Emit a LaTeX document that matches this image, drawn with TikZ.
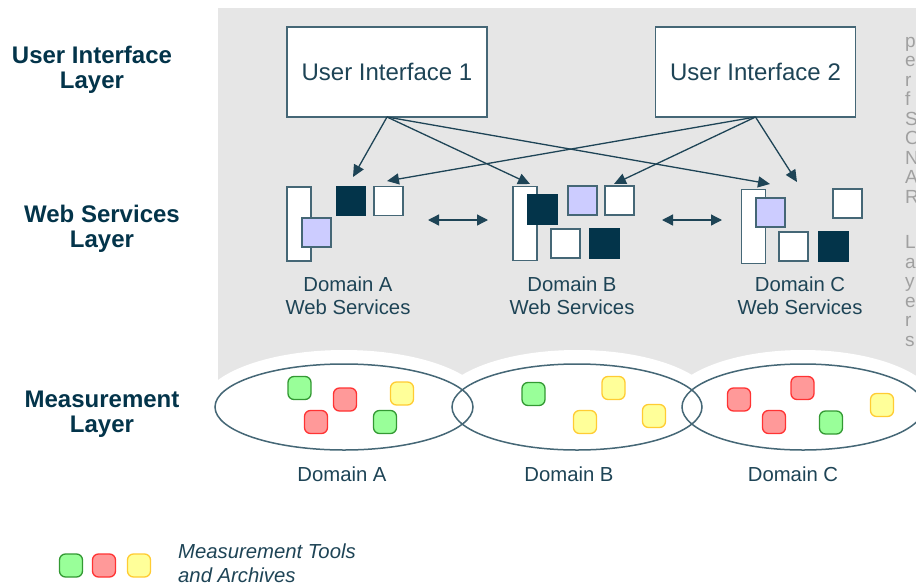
\documentclass[tikz,border=0pt]{standalone}
\usepackage{fontspec}
\setmainfont{Liberation Sans}
\usetikzlibrary{arrows.meta,shapes.geometric}
\definecolor{bgray}{HTML}{E6E6E6}
\definecolor{ink}{HTML}{1E4456}
\definecolor{navy}{HTML}{03344A}
\definecolor{edge}{HTML}{456776}
\definecolor{lav}{HTML}{CCCCFF}
\definecolor{gfill}{HTML}{99FF99}
\definecolor{gline}{HTML}{339933}
\definecolor{rfill}{HTML}{FF9999}
\definecolor{rline}{HTML}{FF3333}
\definecolor{yfill}{HTML}{FFFF99}
\definecolor{yline}{HTML}{FFCC33}
\definecolor{sidegray}{HTML}{A0A0A0}
\begin{document}
\begin{tikzpicture}[x=1pt,y=-1pt,
  layerlabel/.style={align=center,text=navy,font=\bfseries\fontsize{24}{24.5}\selectfont},
  uibox/.style={draw=edge,fill=white,line width=1.5pt,minimum width=200pt,minimum height=90pt,
    inner sep=0pt,outer sep=0pt,text=ink,font=\fontsize{24}{26}\selectfont},
  wsrect/.style={draw=edge,line width=1.5pt,inner sep=0pt,outer sep=0pt},
  wtall/.style={wsrect,fill=white,minimum width=24pt,minimum height=74pt},
  wsq/.style={wsrect,minimum width=29pt,minimum height=29pt},
  wwhite/.style={wsq,fill=white},
  wdark/.style={wsq,fill=navy,draw=navy},
  wlav/.style={wsq,fill=lav},
  domlabel/.style={align=center,text=ink,font=\fontsize{20.3}{23}\selectfont},
  conn/.style={draw=ink,line width=1.3pt,-{Triangle[length=12pt,width=11pt]}},
  biconn/.style={draw=ink,line width=1.3pt,{Triangle[length=11pt,width=11pt]}-{Triangle[length=11pt,width=11pt]}},
  domainshape/.style={ellipse,draw=edge,line width=1.5pt,inner sep=0pt,minimum height=86pt},
  halo/.style={fill=white},
  tool/.style={rounded corners=6pt,minimum size=23pt,inner sep=0pt,line width=1.3pt},
  gtool/.style={tool,draw=gline,fill=gfill},
  rtool/.style={tool,draw=rline,fill=rfill},
  ytool/.style={tool,draw=yline,fill=yfill},
  side/.style={anchor=base west,inner sep=0pt,text=sidegray,font=\fontsize{19}{19.5}\selectfont},
]
\clip (0,0) rectangle (916,584);
\fill[white] (0,0) rectangle (916,584);

% shaded band behind the upper two layers
\fill[bgray] (218,8) rectangle (916,384);

% white margins round the measurement domains
\fill[halo] (344,407) ellipse [x radius=143pt, y radius=57pt];
\fill[halo] (577,407) ellipse [x radius=139pt, y radius=57pt];
\fill[halo] (803,407) ellipse [x radius=135pt, y radius=57pt];

% layer titles
\node[layerlabel] (lui) at (92,70) {User Interface\\Layer};
\node[layerlabel] (lws) at (102,229) {Web Services\\Layer};
\node[layerlabel] (lms) at (102,414) {Measurement\\Layer};

% user interfaces
\node[uibox] (ui1) at (387,72) {User Interface 1};
\node[uibox] (ui2) at (755.5,72) {User Interface 2};

% domain A web services
\node[wtall] (aT) at (299,224) {};
\node[wlav] (aL) at (316.5,232.5) {};
\node[wdark] (aD) at (351,201) {};
\node[wwhite] (aW) at (388.5,201) {};
\node[domlabel] (aLbl) at (348,296) {Domain A\\Web Services};

% domain B web services
\node[wtall] (bT) at (525,223.5) {};
\node[wdark] (bD) at (542.5,209.5) {};
\node[wlav] (bL) at (582.5,200.5) {};
\node[wwhite] (bW) at (619.5,200.5) {};
\node[wwhite] (bW2) at (565.5,243.5) {};
\node[wdark] (bD2) at (604.5,243.5) {};
\node[domlabel] (bLbl) at (572,296) {Domain B\\Web Services};

% domain C web services
\node[wtall] (cT) at (753.5,226.5) {};
\node[wlav] (cL) at (770.5,212.5) {};
\node[wwhite] (cW) at (847.5,203.5) {};
\node[wwhite] (cW2) at (793.5,246.5) {};
\node[wdark] (cD) at (833.5,246.5) {};
\node[domlabel] (cLbl) at (800,296) {Domain C\\Web Services};

% arrow ends
\coordinate (tA1) at (353,177);
\coordinate (tA2) at (387,181);
\coordinate (tB1) at (530,184);
\coordinate (tB2) at (614,184);
\coordinate (tC1) at (770,184);
\coordinate (tC2) at (797,182);
\coordinate (ab1) at (428,220);
\coordinate (ab2) at (488,220);
\coordinate (bc1) at (662,220);
\coordinate (bc2) at (722,220);

\draw[conn] (ui1.south) -- (tA1);
\draw[conn] (ui1.south) -- (tB1);
\draw[conn] (ui1.south) -- (tC1);
\draw[conn] (ui2.south) -- (tA2);
\draw[conn] (ui2.south) -- (tB2);
\draw[conn] (ui2.south) -- (tC2);
\draw[biconn] (ab1) -- (ab2);
\draw[biconn] (bc1) -- (bc2);

% measurement domains
\node[domainshape,minimum width=258pt] (mA) at (344,407) {};
\node[domainshape,minimum width=250pt] (mB) at (577,407) {};
\node[domainshape,minimum width=242pt] (mC) at (803,407) {};

% tools in domain A
\node[gtool] (a1) at (299.5,388) {};
\node[rtool] (a2) at (345,399.5) {};
\node[ytool] (a3) at (402,393.5) {};
\node[rtool] (a4) at (316,422) {};
\node[gtool] (a5) at (385,422) {};
% tools in domain B
\node[gtool] (b1) at (533.5,394) {};
\node[ytool] (b2) at (613.5,388) {};
\node[ytool] (b3) at (585,422) {};
\node[ytool] (b4) at (654,416) {};
% tools in domain C
\node[rtool] (c1) at (739,399.5) {};
\node[rtool] (c2) at (802.5,388) {};
\node[rtool] (c3) at (774,422) {};
\node[gtool] (c4) at (831,422.5) {};
\node[ytool] (c5) at (882,405) {};

\node[domlabel] (mAl) at (342,474) {Domain A};
\node[domlabel] (mBl) at (569,474) {Domain B};
\node[domlabel] (mCl) at (793,474) {Domain C};

% legend
\node[gtool] (lg) at (71,565.5) {};
\node[rtool] (lr) at (104,565.5) {};
\node[ytool] (ly) at (139,565.5) {};
\node[anchor=west,align=left,text=ink,inner sep=0pt,
  font=\itshape\fontsize{20.3}{24}\selectfont] (legtxt) at (178,563) {Measurement Tools\\and Archives};

% vertical caption at the right edge
\foreach \ch [count=\i] in {p,e,r,f,S,O,N,A,R}
  \node[side] (sa\i) at (905,{47+19.5*(\i-1)}) {\ch};
\foreach \ch [count=\i] in {L,a,y,e,r,s}
  \node[side] (sb\i) at (905,{248.5+19.5*(\i-1)}) {\ch};
\end{tikzpicture}
\end{document}
